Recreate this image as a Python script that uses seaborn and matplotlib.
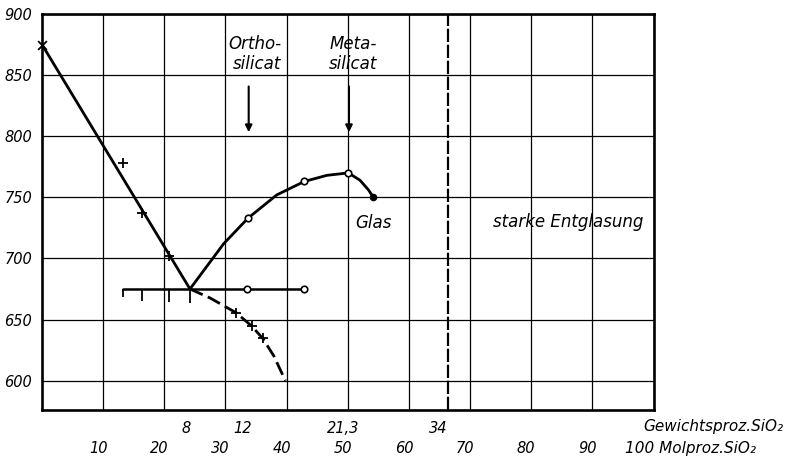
import numpy as np
import matplotlib
matplotlib.use("Agg")
import matplotlib.pyplot as plt
import matplotlib.transforms as mtransforms
import seaborn as sns

# ---------------------------------------------------------
# Data (x = mol-% SiO2, y = deg C)
# ---------------------------------------------------------
# liquidus on the PbO side, straight line down to the eutectic
left_mol = [0.0, 24.2]
left_temp = [875, 675]
start_mol = [0.0]
start_temp = [875]
left_cross_mol = [13.2, 16.3, 20.7]
left_cross_temp = [778, 737, 702]

# liquidus of the orthosilicate, rising to the metasilicate
ortho_mol = [24.2, 29.7, 33.7, 38.4, 42.9, 46.6, 50.1, 52.0, 53.4, 54.2]
ortho_temp = [675, 712, 733, 752, 763, 768, 770, 764, 756, 750]
ortho_pts_mol = [33.7, 42.9, 50.1]
ortho_pts_temp = [733, 763, 770]
end_mol = [54.2]
end_temp = [750]

# metastable (dashed) continuation below the eutectic
meta_mol = [24.2, 27.5, 31.8, 34.3, 36.1, 37.9, 39.8]
meta_temp = [675, 667.6, 655.4, 644.6, 634.6, 620.3, 600]
meta_cross_mol = [31.8, 34.3, 36.1]
meta_cross_temp = [655.4, 644.6, 634.6]

# eutectic horizontal with its measured points
eut_temp = 675
eut_mol = [13.2, 42.9]
eut_pts_mol = [33.5, 42.9]
eut_tick_mol = [13.2, 16.3, 20.7, 24.2]
eut_tick_len = [6.5, 10, 11, 11.5]

# compound markers and glass boundary
arrow_mol = [33.8, 50.2]
arrow_labels = ["Ortho-\nsilicat", "Meta-\nsilicat"]
label_mol = [34.8, 50.8]
boundary_mol = 66.4

# axis ticks
mol_ticks = [10, 20, 30, 40, 50, 60, 70, 80, 90, 100]
mol_labels = ["10", "20", "30", "40", "50", "60", "70", "80", "90", ""]
wt_ticks = [8, 12, 21.3, 34]
wt_labels = ["8", "12", "21,3", "34"]
temp_ticks = [600, 650, 700, 750, 800, 850, 900]


def wt_to_mol(w):
    # PbO-SiO2: weight-% SiO2 -> mol-% SiO2
    w = np.asarray(w, dtype=float)
    n_si = w / 60.08
    n_pb = (100 - w) / 223.2
    return 100 * n_si / (n_si + n_pb)


def mol_to_wt(m):
    m = np.asarray(m, dtype=float)
    g_si = m * 60.08
    g_pb = (100 - m) * 223.2
    return 100 * g_si / (g_si + g_pb)


def main():
    sns.set_theme(style="white")
    plt.rcParams["font.family"] = ["DejaVu Sans"]
    plt.rcParams["font.style"] = "italic"
    plt.rcParams["text.color"] = "black"
    plt.rcParams["xtick.color"] = "black"
    plt.rcParams["ytick.color"] = "black"
    plt.rcParams["xtick.labelcolor"] = "black"
    plt.rcParams["ytick.labelcolor"] = "black"

    fig = plt.figure(figsize=(7.87, 4.58), dpi=100)
    ax = fig.add_axes([42 / 787, 1 - 410 / 458, 611.5 / 787, 396 / 458])

    lw = 2.0
    sns.lineplot(x=left_mol, y=left_temp, ax=ax, color="black", lw=lw, sort=False, estimator=None)
    sns.lineplot(x=ortho_mol, y=ortho_temp, ax=ax, color="black", lw=lw, sort=False, estimator=None)
    sns.lineplot(x=meta_mol, y=meta_temp, ax=ax, color="black", lw=lw, sort=False, estimator=None)
    ax.lines[-1].set_dashes((5, 2))
    sns.lineplot(x=eut_mol, y=[eut_temp] * 2, ax=ax, color="black", lw=1.8, sort=False, estimator=None)
    ax.vlines(eut_tick_mol, [eut_temp - d for d in eut_tick_len], eut_temp, color="black", lw=1.3)

    # phase boundary at 34 wt-%
    ax.axvline(boundary_mol, color="black", lw=1.6, dashes=(6, 1.2))

    # measured points
    sns.scatterplot(x=start_mol, y=start_temp, ax=ax, marker="x", s=40, color="black", linewidth=1.3,
                    zorder=4, clip_on=False)
    sns.scatterplot(x=left_cross_mol + meta_cross_mol, y=left_cross_temp + meta_cross_temp, ax=ax,
                    marker="+", s=55, color="black", linewidth=1.3, zorder=4)
    sns.scatterplot(x=ortho_pts_mol + eut_pts_mol, y=ortho_pts_temp + [eut_temp] * len(eut_pts_mol), ax=ax,
                    marker="o", s=22, color="white", edgecolor="black", linewidth=1.2, zorder=5)
    sns.scatterplot(x=end_mol, y=end_temp, ax=ax, marker="o", s=30, color="black", linewidth=0, zorder=5)

    # compound arrows and labels
    for xm, xl, txt in zip(arrow_mol, label_mol, arrow_labels):
        ax.annotate("", xy=(xm, 801), xytext=(xm, 843),
                    arrowprops=dict(arrowstyle="-|>", color="black", lw=1.5, mutation_scale=10))
        ax.text(xl, 867, txt, ha="center", va="center", multialignment="right", fontsize=12,
                linespacing=1.15)
    ax.text(54.2, 729, "Glas", ha="center", va="center", fontsize=12)
    ax.text(73.8, 730, "starke Entglasung", ha="left", va="center", fontsize=12)

    # axes, grid, ticks
    ax.set_xlim(0, 100)
    ax.set_ylim(576, 900)
    ax.set_xticks(mol_ticks, mol_labels)
    ax.set_yticks(temp_ticks)
    ax.grid(True, color="black", lw=0.9)
    ax.set_axisbelow(True)
    for sp in ax.spines.values():
        sp.set_visible(True)
        sp.set_color("black")
        sp.set_linewidth(1.9)
    ax.tick_params(axis="y", length=0, pad=7, labelsize=10.5)
    ax.tick_params(axis="x", length=0, pad=22, labelsize=10.5)

    sec = ax.secondary_xaxis("bottom", functions=(mol_to_wt, wt_to_mol))
    sec.set_xticks(wt_ticks, wt_labels)
    sec.tick_params(length=0, pad=8, labelsize=10.5, labelcolor="black")
    sec.spines["bottom"].set_visible(False)

    # hand-lettered labels sit a little left of the grid lines
    shift = mtransforms.ScaledTranslation(-5 / 100, 0, fig.dpi_scale_trans)
    for lab in ax.get_xticklabels() + sec.get_xticklabels():
        lab.set_transform(lab.get_transform() + shift)

    fig.text(783 / 787, 1 - 426.5 / 458, "Gewichtsproz.SiO\u2082", ha="right", va="center", fontsize=11)
    fig.text(625 / 787, 1 - 448 / 458, "100 Molproz.SiO\u2082", ha="left", va="center", fontsize=11)

    fig.savefig("out.png", dpi=100)
    plt.close(fig)


if __name__ == "__main__":
    main()
